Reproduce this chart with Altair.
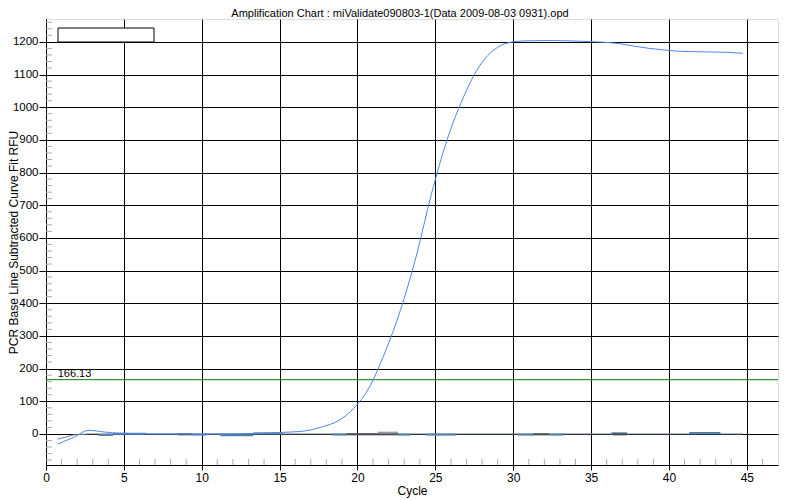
import altair as alt
import pandas as pd

# Main amplification curve (cycle positions as plotted, RFU)
curve_x = [0.75 + i for i in range(45)]
curve_y = [-31, -11, 11, 6, 2, 1, 0, 0, 0, -1,
           0, 0, 1, 2, 4, 6, 10, 22, 40, 78,
           142, 248, 378, 540, 735, 900, 1025, 1120, 1175, 1198,
           1203, 1204, 1204, 1203, 1201, 1199, 1195, 1187, 1180, 1175,
           1171, 1170, 1169, 1168, 1165]

# Flat (negative) sample trace drawn in slate gray
flat_y = [-16, -3] + [0] * 43

# Short segments of other near-zero traces
seg_start = [3.35, 4.3, 8.5, 9.4, 11.2, 13.3, 18.4, 19.3, 21.3, 22.6, 24.4, 30.3, 31.3, 32.3, 36.3, 36.4, 41.3]
seg_end   = [4.3, 6.4, 9.4, 10.3, 13.3, 15.2, 19.3, 22.6, 22.6, 23.4, 26.3, 31.3, 32.3, 33.2, 37.3, 37.3, 43.3]
seg_val   = [-3, 1, -1, -2, -4, 2, -2, -1, 4, -2, -2, -2, -1, -2, 2, -1, 3]
seg_color = ["#4682b4", "#4682b4", "#222222", "#4682b4", "#4682b4", "#6a88a6", "#4682b4", "#222222",
             "#9a9a9a", "#4682b4", "#4682b4", "#4682b4", "#222222", "#4682b4", "#4682b4", "#222222", "#4682b4"]

threshold = 166.13
x_ticks = [0, 5, 10, 15, 20, 25, 30, 35, 40, 45]
y_ticks = list(range(0, 1300, 100))
x_minor = [c for c in range(1, 47) if c % 5 != 0]
y_minor = [v for v in range(-80, 1270, 20) if v % 100 != 0]

title = "Amplification Chart : miValidate090803-1(Data 2009-08-03 0931).opd"

FONT = "Liberation Sans"
W, H = 732, 446

curve_df = pd.DataFrame({"x": curve_x, "y": curve_y})
flat_df = pd.DataFrame({"x": curve_x, "y": flat_y})
seg_df = pd.DataFrame({"x": seg_start, "x2": seg_end, "y": seg_val, "c": seg_color})
xm_df = pd.DataFrame({"x": x_minor})
ym_df = pd.DataFrame({"y": y_minor})

xs = alt.Scale(domain=[0, 47], nice=False, zero=False)
ys = alt.Scale(domain=[-95, 1270], nice=False, zero=False)

x_axis = alt.Axis(values=x_ticks, grid=True, gridColor="black", gridOpacity=1, gridWidth=1,
                  tickColor="black", tickSize=5, domainColor="black", labelColor="black",
                  labelFont=FONT, labelFontSize=12, labelPadding=2, title="Cycle",
                  titleFont=FONT, titleFontSize=12, titleFontWeight="normal", titleColor="black",
                  titlePadding=2, labelFlush=False, labelOverlap=False, format="d")
y_axis = alt.Axis(values=y_ticks, grid=True, gridColor="black", gridOpacity=1, gridWidth=1,
                  tickColor="black", tickSize=7, domainColor="black", labelColor="black",
                  labelFont=FONT, labelFontSize=11.5, labelPadding=1, labelOverlap=False, format="d",
                  labelFlush=False, labelBound=False,
                  title="PCR Base Line Subtracted Curve Fit RFU",
                  titleFont=FONT, titleFontSize=12, titleFontWeight="normal", titleColor="black",
                  titleX=-33, titleY=H / 2, titleAngle=-90, titleAlign="center", titleBaseline="middle")


def X(field="x"):
    return alt.X(f"{field}:Q", scale=xs, axis=x_axis)


def Y(field="y"):
    return alt.Y(f"{field}:Q", scale=ys, axis=y_axis)


base_grid = alt.Chart(curve_df).mark_line(opacity=0).encode(x=X(), y=Y())

y_minor_layer = alt.Chart(ym_df).mark_rule(color="#aaaaaa", strokeWidth=1).encode(
    y=Y(), x=alt.value(0), x2=alt.value(6)
)
x_minor_layer = alt.Chart(xm_df).mark_rule(color="#aaaaaa", strokeWidth=1).encode(
    x=X(), y=alt.value(H), y2=alt.value(H - 6)
)

thresh_line = alt.Chart(pd.DataFrame({"y": [threshold]})).mark_rule(color="#008000", strokeWidth=1).encode(
    y=Y()
)
thresh_text = alt.Chart(pd.DataFrame({"x": [0.75], "y": [threshold], "t": [f"{threshold:.2f}"]})).mark_text(
    align="left", baseline="bottom", dy=-1, font=FONT, fontSize=11, color="black"
).encode(x=X(), y=Y(), text="t:N")

segs = alt.Chart(seg_df).mark_rule(strokeWidth=2).encode(
    x=X(), x2="x2:Q", y=Y(), color=alt.Color("c:N", scale=None)
)

flat_line = alt.Chart(flat_df).mark_line(color="#708090", strokeWidth=1).encode(x=X(), y=Y())

main_line = alt.Chart(curve_df).mark_line(color="#4f86ec", strokeWidth=1, interpolate="monotone").encode(
    x=X(), y=Y()
)

legend_box = alt.Chart(pd.DataFrame({"k": [0]})).mark_rect(fill="white", stroke="black", strokeWidth=1).encode(
    x=alt.value(12), x2=alt.value(108), y=alt.value(9), y2=alt.value(23)
)

chart = alt.layer(
    base_grid, y_minor_layer, x_minor_layer, segs, flat_line, thresh_line, thresh_text, main_line, legend_box
).properties(
    width=W, height=H,
    title=alt.TitleParams(title, font=FONT, fontSize=11, fontWeight="normal", color="black",
                          offset=0, dx=-12),
    autosize="none",
    padding={"left": 38, "top": 11, "right": 10, "bottom": 34},
).configure_view(
    stroke="black", strokeWidth=1
).configure_axis(
    labelOverlap=False
).configure(background="white")

chart.save("out.html", embed_options={"renderer": "svg", "actions": False})
